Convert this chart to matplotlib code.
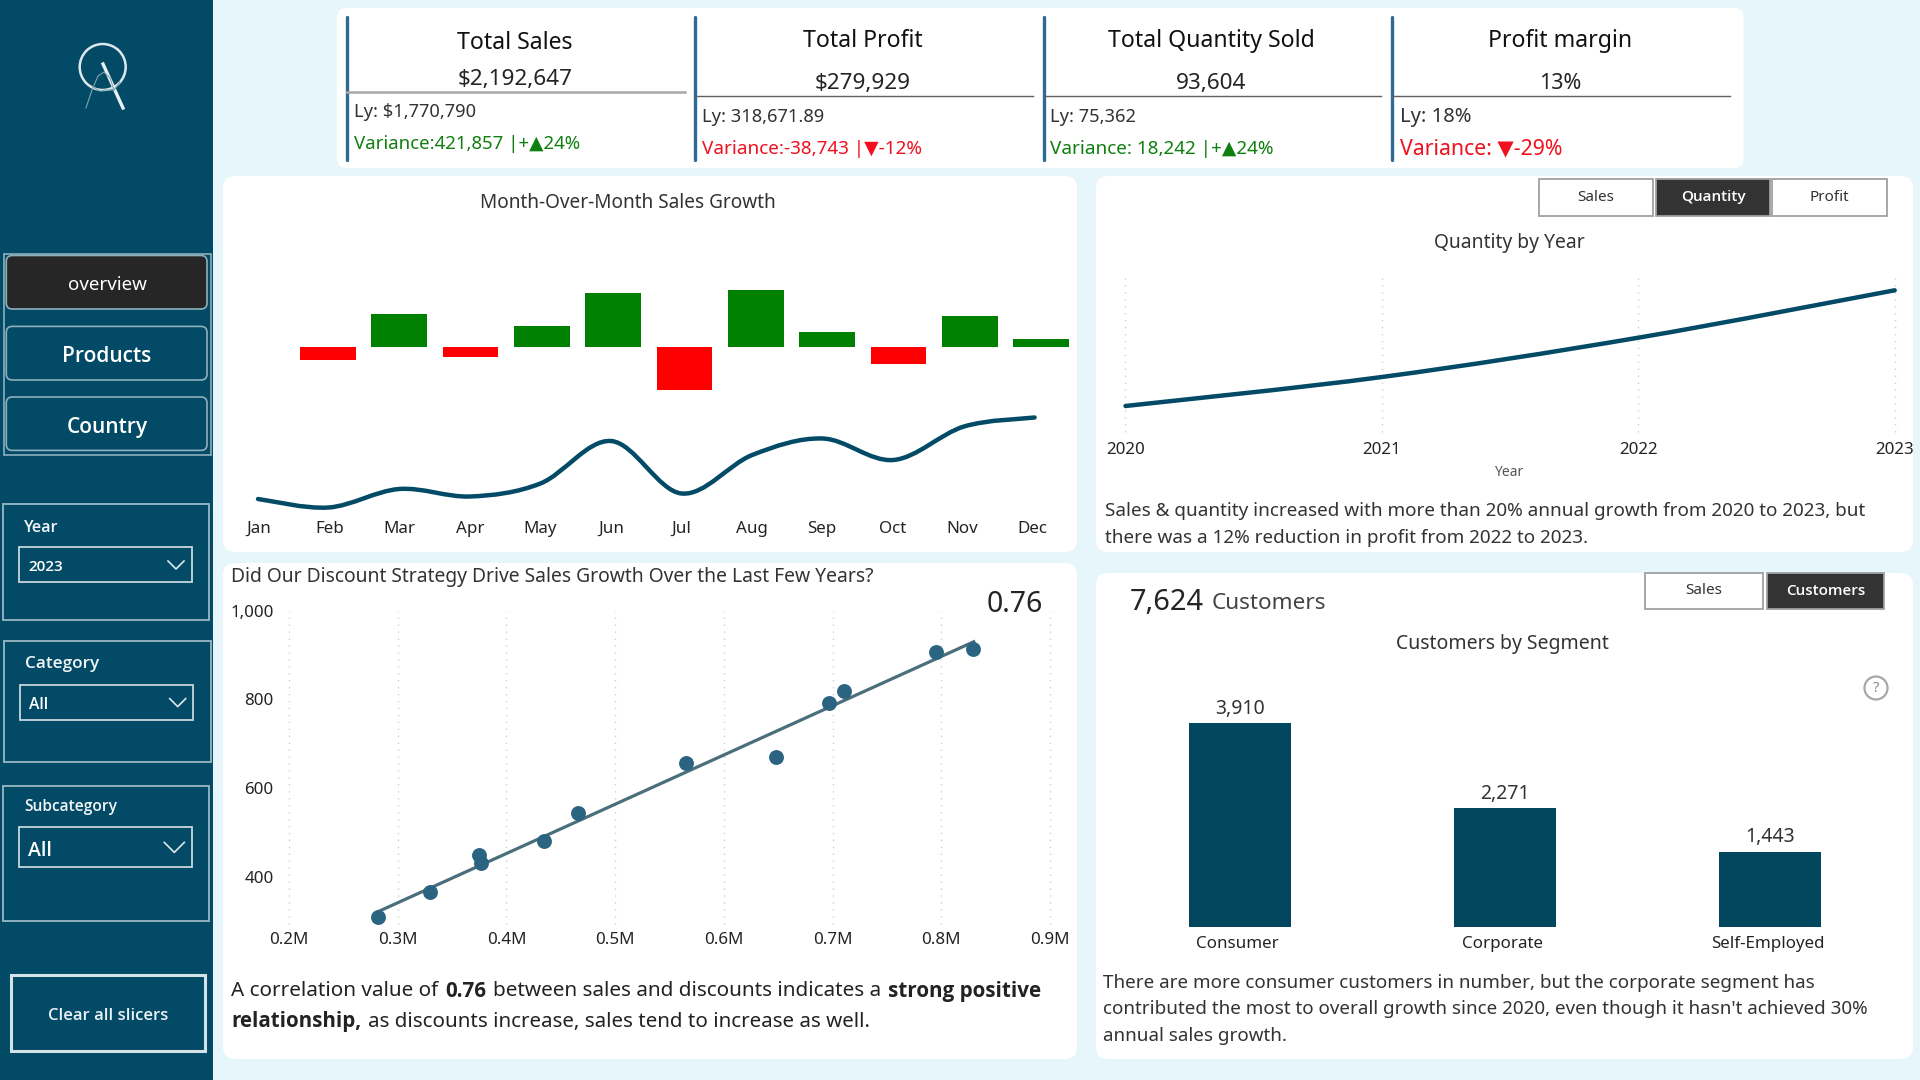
import matplotlib
matplotlib.use("Agg")
import matplotlib.pyplot as plt
from matplotlib import font_manager as fm
from matplotlib.patches import FancyBboxPatch, Rectangle, Ellipse, PathPatch
from matplotlib.path import Path
from matplotlib.ticker import FuncFormatter

plt.rcParams['font.family'] = ['Noto Sans', 'DejaVu Sans']


def has_weight(fam, wanted):
    for f in fm.fontManager.ttflist:
        if f.name == fam:
            w = f.weight
            if isinstance(w, str):
                w = fm.weight_dict.get(w, 400)
            if w in wanted:
                return True
    return False


def pick(wanted):
    for fam in ['Noto Sans', 'Open Sans', 'Lato', 'Roboto', 'Inter', 'Liberation Sans']:
        if has_weight(fam, wanted):
            return fam
    return 'DejaVu Sans'


BOLD_FAM = pick((700,))
SEMI_FAM = pick((600,))
if SEMI_FAM == 'DejaVu Sans':
    SEMI_FAM = BOLD_FAM

# ---------- data ----------
months = ['Jan', 'Feb', 'Mar', 'Apr', 'May', 'Jun', 'Jul', 'Aug', 'Sep', 'Oct', 'Nov', 'Dec']
mom_growth = [0, -6.4, 16.5, -4.9, 10.4, 26.9, -21.7, 28.5, 7.4, -8.7, 15.5, 4.0]
monthly_sales_k = [102, 85, 122, 107, 133, 218, 113, 190, 223, 180, 247, 265]

discount_sales_m = [0.2818, 0.330, 0.3746, 0.3766, 0.4342, 0.4655, 0.5649, 0.6477, 0.6971, 0.7108, 0.795, 0.8290]
discount_qty = [308, 365, 449, 432, 481, 544, 656, 671, 791, 818, 907, 914]
trend_x = [0.2818, 0.8299]
trend_y = [321, 930]
scatter_xticks = [0.2, 0.3, 0.4, 0.5, 0.6, 0.7, 0.8, 0.9]
scatter_yticks = [400, 600, 800, 1000]

years = [2020, 2021, 2022, 2023]
quantity_by_year = [49080, 60240, 75362, 93604]

segments = ['Consumer', 'Corporate', 'Self-Employed']
segment_customers = [3910, 2271, 1443]

kpi_titles = ['Total Sales', 'Total Profit', 'Total Quantity Sold', 'Profit margin']
kpi_values = ['$2,192,647', '$279,929', '93,604', '13%']
kpi_ly = ['Ly: $1,770,790', 'Ly: 318,671.89', 'Ly: 75,362', 'Ly: 18%']
kpi_var = ['Variance:421,857 |+▲24%', 'Variance:-38,743 |▼-12%', 'Variance: 18,242 |+▲24%', 'Variance: ▼-29%']

# ---------- colours ----------
BG = '#E6F6FB'
NAVY = '#034A66'
BAR = '#03475F'
DARK = '#333333'
FRAME = '#8FB0BD'
TXT = '#252423'
GREEN = '#0F7F0F'
RED = '#F0101E'
FONT_TICK = 12.2
GRID = '#D0D0D0'

fig = plt.figure(figsize=(19.2, 10.8), dpi=100, facecolor=BG)
bg = fig.add_axes([0, 0, 1, 1], zorder=0)
bg.set_xlim(0, 1920)
bg.set_ylim(1080, 0)
bg.axis('off')


def ax_px(l, t, r, b):
    ax = fig.add_axes([l / 1920, 1 - b / 1080, (r - l) / 1920, (b - t) / 1080], zorder=2)
    ax.patch.set_alpha(0)
    for s in ax.spines.values():
        s.set_visible(False)
    ax.tick_params(length=0, labelcolor=TXT, labelsize=FONT_TICK)
    return ax


def T(x, y, s, size=12, color=TXT, ha='left', weight='normal', **kw):
    fam = None
    if weight == 'bold':
        fam = [BOLD_FAM, 'DejaVu Sans']
    elif weight == 'semibold':
        fam = [SEMI_FAM, 'DejaVu Sans']
    if fam:
        kw['family'] = fam
    return bg.text(x, y + 2, s, fontsize=size, color=color, ha=ha, va='center', weight=weight, **kw)


def rrect(l, t, r, b, rad=8, fc='white', ec='none', lw=0, z=1):
    p = FancyBboxPatch((l, t), r - l, b - t, boxstyle=f'round,pad=0,rounding_size={rad}',
                       fc=fc, ec=ec, lw=lw, zorder=z)
    bg.add_patch(p)


def rect(l, t, r, b, fc='none', ec='none', lw=1, z=2):
    bg.add_patch(Rectangle((l, t), r - l, b - t, fc=fc, ec=ec, lw=lw, zorder=z))


def smooth(ax, xs, ys, color=NAVY, lw=3.2):
    # smooth curve through the data points, like the reference's smoothed line
    n = len(xs)
    verts = [(xs[0], ys[0])]
    codes = [Path.MOVETO]
    for i in range(n - 1):
        x0, y0 = (xs[i - 1], ys[i - 1]) if i > 0 else (xs[i], ys[i])
        x3, y3 = (xs[i + 2], ys[i + 2]) if i + 2 < n else (xs[i + 1], ys[i + 1])
        c1 = (xs[i] + (xs[i + 1] - x0) / 6, ys[i] + (ys[i + 1] - y0) / 6)
        c2 = (xs[i + 1] - (x3 - xs[i]) / 6, ys[i + 1] - (y3 - ys[i]) / 6)
        verts += [c1, c2, (xs[i + 1], ys[i + 1])]
        codes += [Path.CURVE4] * 3
    ax.add_patch(PathPatch(Path(verts, codes), fc='none', ec=color, lw=lw,
                           capstyle='round', clip_on=False))


def dotted_grid(ax):
    ax.grid(axis='x', color=GRID, lw=1, linestyle=(0, (1, 4)))
    ax.set_axisbelow(True)
    for g in ax.get_xgridlines():
        g.set_clip_on(False)


def rich(x, y, parts, size, color=TXT):
    rend = fig.canvas.get_renderer()
    space = size * 100 / 72 * 0.33
    for i, (s, w) in enumerate(parts):
        t = T(x, y, s, size=size, color=color, weight=w, zorder=4)
        x += t.get_window_extent(rend).width
        nxt = parts[i + 1][0] if i + 1 < len(parts) else ''
        if nxt and nxt[0] not in ',.':
            x += space


# ---------- sidebar ----------
bg.add_patch(Rectangle((0, 0), 213, 1080, fc=NAVY, ec='none', zorder=1))
# logo
bg.add_patch(Ellipse((102.7, 67), 46, 46, fc='none', ec='#DDE8EC', lw=1.8, zorder=3))
bg.plot([103, 123], [64, 108], color='#E8F0F2', lw=2.4, zorder=3)
bg.plot([86, 92, 98, 104, 110, 114], [108, 90, 76, 72, 78, 90], color='#7FA3B1', lw=0.8, zorder=3)
bg.plot([93, 100, 106, 114, 120], [87, 91, 90, 90, 82], color='#7FA3B1', lw=0.8, zorder=3)

rect(3.7, 254, 210.7, 454.5, ec=FRAME, lw=1.2)
rrect(6.3, 255.5, 207, 309, rad=6, fc='#262626', ec=FRAME, lw=1.2, z=3)
rrect(6.3, 326.4, 207, 380, rad=6, fc=NAVY, ec=FRAME, lw=1.2, z=3)
rrect(6.3, 397, 207, 450.4, rad=6, fc=NAVY, ec=FRAME, lw=1.2, z=3)
T(107, 283.5, 'overview', 13.5, 'white', 'center', zorder=4)
T(107, 354, 'Products', 15, 'white', 'center', 'semibold', zorder=4)
T(107, 425.5, 'Country', 15, 'white', 'center', 'semibold', zorder=4)

slicers = [
    ('Year', '2023', (2.7, 503.5, 209, 619.8), (24, 525.7), 11.6, (19, 547, 192, 582), (28, 565), (176, 565, 8, 4), 11),
    ('Category', 'All', (4, 640.5, 210.7, 762.4), (25, 661.8), 12.3, (20.3, 684.5, 193.3, 719.5), (29.3, 702.6), (177.7, 702.6, 8, 4), 11.3),
    ('Subcategory', 'All', (2.7, 785.7, 209, 921), (24, 804.8), 11.2, (19, 826.7, 192, 867.3), (28, 849), (174.3, 847.4, 10, 5), 14),
]
for name, val, fr, np_, ns, dd, vp, ch, vs in slicers:
    rect(fr[0], fr[1], fr[2], fr[3], ec=FRAME, lw=1.4)
    T(np_[0], np_[1], name, ns, '#F2F6F7', weight='semibold', zorder=4)
    rect(dd[0], dd[1], dd[2], dd[3], ec='#C6D6DC', lw=1.3)
    T(vp[0], vp[1], val, vs, 'white', weight='semibold', zorder=4)
    bg.plot([ch[0] - ch[2], ch[0], ch[0] + ch[2]], [ch[1] - ch[3], ch[1] + ch[3], ch[1] - ch[3]],
            color='#DDE8EC', lw=1.2, zorder=4)

rect(11, 975.3, 205, 1050.6, ec='#D5E3E8', lw=2.2)
T(108, 1014, 'Clear all slicers', 12, '#EAF2F4', 'center', 'semibold', zorder=4)

# ---------- cards ----------
rrect(337, 8, 1743.5, 168, rad=9)
rrect(223, 176, 1077, 552, rad=12)
rrect(223, 563, 1077, 1059, rad=12)
rrect(1096, 176, 1913, 552, rad=12)
rrect(1096, 573, 1913, 1059, rad=12)

# ---------- KPI row ----------
vbars = [347, 695, 1043.6, 1392]
hline_r = [685, 1033, 1381, 1730]
title_cx = [515, 863, 1211, 1560]
title_y = [41, 38.7, 38.7, 38.7]
value_y = [77.5, 81.8, 81.8, 81.8]
hline_y = [92.3, 96.3, 96.3, 96.3]
ly_y = [110.2, 114.7, 114.7, 114.7]
var_y = [142.2, 147, 147, 147]
var_col = [GREEN, RED, GREEN, RED]
text_x = [354, 702, 1050, 1400]
ly_size = [13.2, 13.2, 13.2, 14.5]
var_size = [13.4, 13.6, 13.6, 15.3]
val_size = [16.2, 16.2, 16.2, 15.5]
for i in range(4):
    bg.plot([vbars[i], vbars[i]], [17, 160], color='#2E6A94', lw=2.4, solid_capstyle='round', zorder=3)
    bg.plot([vbars[i], hline_r[i]], [hline_y[i]] * 2, color='#A8A8A8' if i == 0 else '#606060',
            lw=1.8 if i == 0 else 1.0, zorder=3)
    T(title_cx[i], title_y[i], kpi_titles[i], 16.6, '#111111', 'center', zorder=4)
    T(title_cx[i], value_y[i], kpi_values[i], val_size[i], '#252423', 'center', zorder=4)
    T(text_x[i], ly_y[i], kpi_ly[i], ly_size[i], '#333333', zorder=4)
    T(text_x[i], var_y[i], kpi_var[i], var_size[i], var_col[i], zorder=4)

# ---------- month-over-month chart ----------
T(628, 201, 'Month-Over-Month Sales Growth', 13.7, '#333333', 'center', zorder=4)
ax_b = ax_px(230, 280, 1076, 400)
ax_b.set_xlim(-0.373, 11.49)
ax_b.set_ylim(-26.5, 33.5)
ax_b.bar(range(12), mom_growth, width=0.78,
         color=['#008000' if v >= 0 else '#FF0000' for v in mom_growth])
ax_b.set_xticks([])
ax_b.set_yticks([])

ax_l = ax_px(230, 400, 1076, 516)
ax_l.set_xlim((230 - 258) / 70.6, (1076 - 258) / 70.6)
ax_l.set_ylim(68, 300)
smooth(ax_l, list(range(12)), monthly_sales_k)
ax_l.set_xticks([(1 + 70.35 * i) / 70.6 for i in range(12)])
ax_l.set_xticklabels(months)
ax_l.tick_params(axis='x', pad=3.6)
ax_l.set_yticks([])

# ---------- scatter ----------
T(231, 575.2, 'Did Our Discount Strategy Drive Sales Growth Over the Last Few Years?', 13.9, '#333333', zorder=4)
T(1015, 603, '0.76', 20.5, '#252423', 'center', zorder=4)
ax_s = ax_px(289, 610.7, 1050, 924)
ax_s.set_xlim(0.2, 0.9)
ax_s.set_ylim(293.3, 1000)
ax_s.set_xticks(scatter_xticks)
ax_s.set_xticklabels([f'{v:.1f}M' for v in scatter_xticks])
ax_s.set_yticks(scatter_yticks)
ax_s.yaxis.set_major_formatter(FuncFormatter(lambda v, p: f'{int(v):,}'))
ax_s.tick_params(axis='x', pad=6)
ax_s.tick_params(axis='y', pad=11)
dotted_grid(ax_s)
ax_s.plot(trend_x, trend_y, color='#4A6E7C', lw=2.3, clip_on=False, zorder=3)
ax_s.scatter(discount_sales_m, discount_qty, s=115, color='#2B6480', clip_on=False, zorder=4, linewidths=0)

rich(231, 989.5, [('A correlation value of', 'normal'), ('0.76', 'bold'),
                  ('between sales and discounts indicates a', 'normal'),
                  ('strong positive', 'bold')], 14.9, '#222222')
rich(231, 1019.5, [('relationship,', 'bold'),
                   ('as discounts increase, sales tend to increase as well.', 'normal')], 14.8, '#222222')


# ---------- quantity by year ----------
def button(l, t, r, b, s, active, size=11):
    rect(l, t, r, b, fc=DARK if active else 'white', ec='#A0A0A0', lw=1.3)
    T((l + r) / 2, (t + b) / 2 - 2, s, size, 'white' if active else '#333333', 'center',
      'semibold' if active else 'normal', zorder=4)


button(1539, 179.3, 1653, 215.7, 'Sales', False)
button(1656, 179.3, 1770, 215.7, 'Quantity', True)
button(1772, 179.3, 1887, 215.7, 'Profit', False)
T(1509, 240.7, 'Quantity by Year', 13.9, '#333333', 'center', zorder=4)
ax_q = ax_px(1125.5, 273.3, 1894.7, 431.7)
ax_q.set_xlim(2020, 2023)
ax_q.set_ylim(39190, 100146)
ax_q.set_xticks(years)
ax_q.set_xticklabels([str(y) for y in years])
ax_q.set_yticks([])
ax_q.tick_params(axis='x', pad=7.2)
dotted_grid(ax_q)
smooth(ax_q, years, quantity_by_year)
T(1509, 471, 'Year', 10, '#555555', 'center', zorder=4)
T(1105, 509.3, 'Sales & quantity increased with more than 20% annual growth from 2020 to 2023, but', 13.6, '#333333', zorder=4)
T(1105, 536, 'there was a 12% reduction in profit from 2022 to 2023.', 13.6, '#333333', zorder=4)

# ---------- customers by segment ----------
T(1130, 600, '7,624', 20.9, '#252423', zorder=4)
T(1212, 601.7, 'Customers', 16.2, '#444444', zorder=4)
button(1645, 572.7, 1763, 608.7, 'Sales', False)
button(1767, 572.7, 1884, 608.7, 'Customers', True)
T(1502, 642.3, 'Customers by Segment', 14, '#333333', 'center', zorder=4)
ax_c = ax_px(1096, 690, 1913, 927)
ax_c.set_xlim((1096 - 1240) / 265, (1913 - 1240) / 265)
ax_c.set_ylim(0, 4536)
bars = ax_c.bar(range(3), segment_customers, width=0.385, color=BAR)
ax_c.bar_label(bars, labels=[f'{v:,}' for v in segment_customers], padding=3, fontsize=14, color='#333333')
ax_c.set_xticks([-0.009, 0.991, 1.991])
ax_c.set_xticklabels(segments)
ax_c.set_yticks([])
ax_c.tick_params(axis='x', pad=6.3)

bg.add_patch(Ellipse((1876, 688), 23, 23, fc='none', ec='#A8A8A8', lw=1.6, zorder=3))
T(1876, 686, '?', 10.5, '#8A8A8A', 'center', zorder=4)

T(1103, 980.5, 'There are more consumer customers in number, but the corporate segment has', 13.55, '#333333', zorder=4)
T(1103, 1007.5, "contributed the most to overall growth since 2020, even though it hasn't achieved 30%", 13.55, '#333333', zorder=4)
T(1103, 1033.8, 'annual sales growth.', 13.55, '#333333', zorder=4)

fig.savefig('out.png', dpi=100, facecolor=BG)
